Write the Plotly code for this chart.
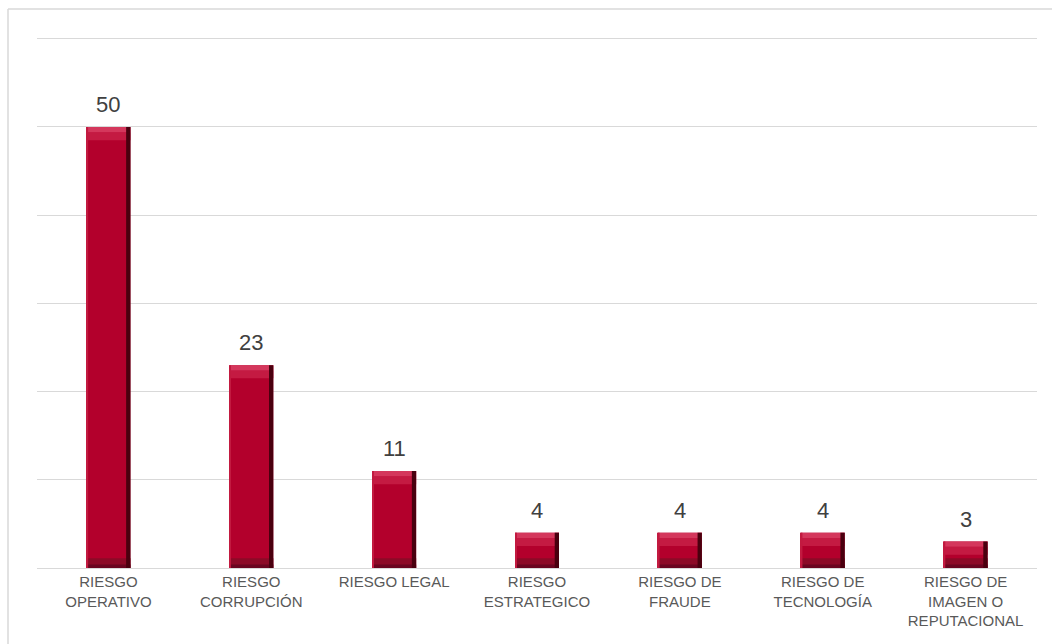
import plotly.graph_objects as go

categories = ["RIESGO<br>OPERATIVO", "RIESGO<br>CORRUPCIÓN", "RIESGO LEGAL",
              "RIESGO<br>ESTRATEGICO", "RIESGO DE<br>FRAUDE", "RIESGO DE<br>TECNOLOGÍA",
              "RIESGO DE<br>IMAGEN O<br>REPUTACIONAL"]
values = [50, 23, 11, 4, 4, 4, 3]

BW = 0.308
FONT = "Liberation Sans, Arial, sans-serif"

fig = go.Figure()


def strip(base, height, color, width=BW, offset=-BW / 2):
    fig.add_trace(go.Bar(
        x=categories, y=height, base=base, width=width, offset=offset,
        marker=dict(color=color, line=dict(width=0)),
        hoverinfo="skip", showlegend=False,
    ))


# main bar body
strip([0] * len(values), values, "#B3002C")
# top bevel (two tones)
strip([v - 1.5 for v in values], [0.9] * len(values), "#C41A42")
strip([v - 0.6 for v in values], [0.6] * len(values), "#D4375C")
# bottom bevel shade
strip([0] * len(values), [1.1] * len(values), "#8C0A27")
strip([0] * len(values), [0.4] * len(values), "#6A0520")
# right dark edge
EW = 0.03
strip([0] * len(values), values, "#4A000F", width=EW, offset=BW / 2 - EW)
# left subtle edge
LW = 0.012
strip([0] * len(values), values, "#C21A40", width=LW, offset=-BW / 2)

annotations = [
    dict(x=c, y=v, text=str(v), showarrow=False, xref="x", yref="y",
         yanchor="bottom", yshift=8,
         font=dict(size=22, color="#404040", family=FONT))
    for c, v in zip(categories, values)
]

fig.update_layout(
    barmode="overlay",
    width=1052, height=644,
    margin=dict(l=37, r=15, t=37, b=76),
    paper_bgcolor="white", plot_bgcolor="white",
    font=dict(family=FONT, color="#595959", size=15),
    xaxis=dict(showgrid=False, showline=True, linecolor="#D9D9D9", linewidth=1,
               ticks="", automargin=False,
               tickfont=dict(size=15, color="#595959"), fixedrange=True),
    yaxis=dict(range=[0, 60.2], dtick=10, showgrid=True, gridcolor="#D9D9D9", gridwidth=1,
               showticklabels=False, zeroline=False, showline=False, fixedrange=True),
    annotations=annotations,
    shapes=[
        dict(type="line", xref="paper", yref="paper", x0=-0.029, x1=1.02, y0=1.0527, y1=1.0527,
             line=dict(color="#D9D9D9", width=1.5)),
        dict(type="line", xref="paper", yref="paper", x0=-0.029, x1=-0.029, y0=1.0527, y1=-0.2,
             line=dict(color="#D9D9D9", width=1.5)),
    ],
)

fig.write_html("out.html")
